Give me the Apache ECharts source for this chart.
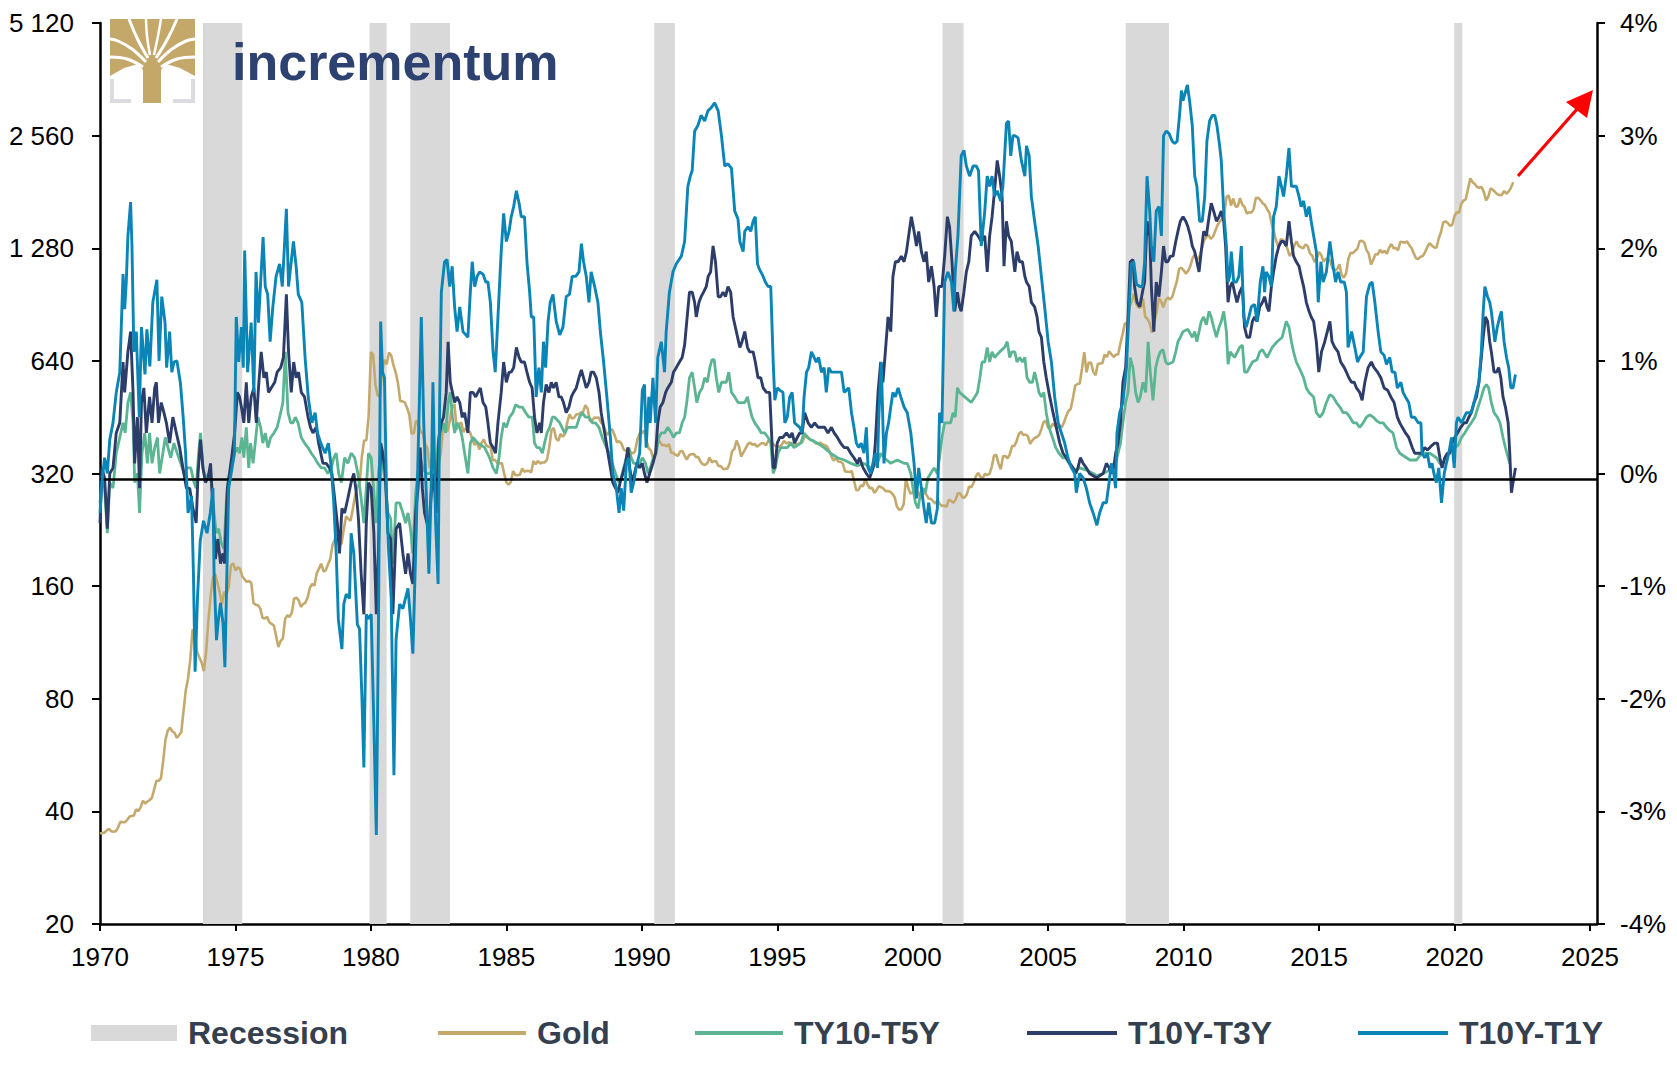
<!DOCTYPE html>
<html><head><meta charset="utf-8">
<script src="https://cdn.jsdelivr.net/npm/echarts@6/dist/echarts.min.js"></script>
<style>html,body{margin:0;padding:0;background:#fff}#c{width:1677px;height:1066px}</style>
</head><body><div id="c"></div>
<script>
// ---------- DATA ----------
const goldStart = 1970; // monthly from Jan 1970
const gold = [
34.9,35.0,35.1,35.6,35.9,35.4,35.3,35.4,36.2,37.5,37.4,37.4,
37.9,38.7,38.9,39.0,40.5,40.1,41.0,42.7,42.0,42.5,42.9,43.5,
45.8,48.3,48.3,49.0,54.6,62.1,65.7,67.0,65.5,64.9,62.9,63.9,
65.1,74.2,84.4,90.5,102.0,122.5,120.2,106.8,103.0,100.1,94.8,106.7,
129.2,150.2,168.4,172.2,163.3,154.1,143.0,154.6,151.8,158.8,181.7,183.9,
176.3,179.6,178.2,170.1,167.0,164.2,165.1,163.1,144.1,142.7,142.2,139.3,
131.6,131.0,132.6,128.1,126.8,125.6,117.9,110.0,114.1,116.0,130.5,133.8,
132.3,136.1,148.2,149.1,146.7,140.8,143.3,144.6,149.2,158.6,162.1,160.5,
173.1,178.2,183.7,175.1,176.3,183.1,188.9,206.1,212.9,227.7,206.1,207.8,
227.3,245.7,242.1,239.2,257.6,279.1,294.6,301.0,355.3,392.0,392.7,456.0,
675.3,665.3,553.6,517.4,513.8,600.7,644.3,626.5,673.6,661.2,623.5,594.9,
557.4,499.8,498.8,495.8,479.7,460.8,409.3,410.1,443.1,437.8,413.4,410.1,
384.2,374.2,330.2,350.5,333.9,314.8,338.7,364.1,435.6,422.0,415.0,444.3,
481.4,491.0,419.7,432.8,438.4,412.8,422.7,416.2,411.8,393.7,381.7,387.9,
371.0,386.0,394.8,381.1,377.1,378.0,347.2,348.0,341.1,340.2,341.2,320.2,
303.0,298.9,303.9,324.8,316.6,316.6,317.5,329.8,323.6,325.5,325.1,322.3,
345.5,338.7,345.8,340.4,342.5,342.6,348.5,376.2,417.9,423.3,397.4,391.1,
408.4,401.1,408.9,438.4,460.3,449.0,450.7,460.5,460.6,465.8,467.7,487.1,
477.0,442.1,443.6,451.7,451.0,451.3,437.4,432.4,413.0,406.0,419.3,419.1,
404.4,387.8,390.2,384.4,371.0,367.6,375.0,365.4,361.8,366.9,393.8,409.2,
410.1,416.8,393.1,374.3,369.1,352.3,362.5,394.7,389.3,380.7,381.4,378.2,
383.6,363.8,363.3,358.4,356.8,366.7,367.7,356.5,348.8,358.7,360.2,361.0,
354.5,353.9,344.3,338.6,337.2,340.8,353.1,342.9,345.4,344.4,335.0,334.8,
329.0,329.3,330.1,342.2,367.2,371.9,392.0,378.7,355.3,364.2,373.8,383.3,
386.9,382.0,383.9,377.3,381.4,385.6,385.5,380.4,391.6,389.8,384.4,379.3,
378.6,376.5,382.1,391.0,385.2,387.6,386.2,383.7,383.1,383.1,385.8,387.4,
399.5,404.8,396.2,392.9,392.0,385.3,383.5,387.4,383.1,381.1,377.9,369.0,
355.0,346.6,351.8,344.5,343.8,340.8,324.1,323.8,322.8,324.9,306.0,288.7,
289.1,297.5,295.9,308.4,299.1,292.3,292.9,284.1,289.0,296.1,294.1,291.7,
287.1,287.3,285.9,282.6,276.4,261.3,256.1,256.7,264.7,310.7,293.2,283.1,
284.3,299.9,286.4,279.7,275.3,285.7,281.6,274.5,273.7,270.0,266.0,271.5,
265.5,261.9,263.0,260.5,272.4,270.2,267.5,272.4,283.4,283.1,276.2,275.9,
281.7,295.5,294.0,302.7,314.5,321.2,313.3,310.3,319.2,316.6,319.1,333.4,
356.9,359.0,340.6,328.2,355.7,356.4,351.0,359.8,378.9,378.9,389.9,407.6,
414.0,405.3,406.7,403.0,383.8,392.4,398.1,400.5,405.3,420.5,439.4,442.1,
424.0,423.4,434.2,429.2,421.9,430.7,424.5,437.9,456.0,469.9,476.7,509.8,
549.9,555.0,557.1,610.6,675.4,596.2,633.8,632.6,598.2,585.8,627.8,629.8,
631.2,664.8,654.9,679.4,666.9,655.5,665.3,665.4,712.7,754.6,806.2,803.2,
889.6,922.3,968.4,909.7,888.7,889.5,939.8,839.0,829.9,806.6,760.9,816.1,
858.7,943.2,924.3,890.2,928.6,945.7,934.2,949.4,996.6,1043.2,1127.0,1134.7,
1117.9,1095.4,1113.3,1148.7,1205.4,1232.9,1192.9,1215.8,1270.9,1342.0,1369.9,1390.6,
1356.4,1372.7,1424.0,1473.8,1510.4,1528.7,1572.8,1755.8,1771.9,1665.2,1738.9,1652.3,
1656.1,1742.6,1673.8,1650.1,1585.5,1596.7,1593.9,1626.0,1744.5,1746.6,1721.6,1688.5,
1671.9,1627.6,1592.9,1487.9,1414.0,1343.4,1285.5,1351.7,1348.6,1316.6,1275.9,1221.5,
1244.3,1299.6,1336.1,1299.0,1287.5,1279.1,1310.6,1295.9,1238.8,1222.5,1175.3,1200.6,
1250.8,1227.1,1178.6,1198.9,1198.6,1181.5,1128.3,1117.9,1124.8,1159.3,1086.4,1068.3,
1097.9,1199.5,1245.1,1242.3,1260.9,1276.4,1336.7,1340.2,1326.6,1266.6,1238.4,1157.4,
1192.1,1234.2,1231.4,1266.9,1246.0,1260.3,1236.8,1283.0,1314.1,1279.5,1281.9,1264.5,
1331.3,1330.7,1324.7,1334.8,1303.5,1281.6,1238.0,1201.7,1198.4,1215.4,1220.7,1250.4,
1291.8,1320.1,1300.9,1285.9,1283.7,1359.0,1412.9,1500.4,1510.6,1494.8,1470.0,1479.1,
1560.7,1597.1,1591.9,1683.2,1715.9,1732.2,1846.5,1968.6,1921.9,1900.3,1866.3,1858.4,
1867.0,1808.2,1718.2,1760.0,1850.3,1834.6,1807.8,1785.3,1775.1,1776.9,1820.9,1790.3,
1816.0,1856.3,1920.0
];

// TY10-T5Y (%)
const t5Years = [1970.00,1970.07,1970.17,1970.27,1970.36,1970.48,1970.60,1970.73,1970.85,1970.93,1971.03,1971.13,1971.22,1971.28,1971.38,1971.46,1971.55,1971.65,1971.75,1971.83,1971.92,1972.02,1972.12,1972.20,1972.32,1972.41,1972.51,1972.61,1972.73,1972.85,1972.98,1973.10,1973.22,1973.35,1973.47,1973.55,1973.64,1973.71,1973.80,1973.89,1974.01,1974.11,1974.21,1974.29,1974.38,1974.48,1974.58,1974.66,1974.75,1974.85,1974.97,1975.07,1975.15,1975.24,1975.31,1975.40,1975.49,1975.56,1975.65,1975.73,1975.83,1975.93,1976.01,1976.10,1976.20,1976.30,1976.42,1976.54,1976.67,1976.75,1976.84,1976.94,1977.04,1977.12,1977.21,1977.31,1977.43,1977.55,1977.68,1977.80,1977.92,1978.04,1978.17,1978.29,1978.41,1978.54,1978.63,1978.72,1978.81,1978.91,1979.03,1979.15,1979.27,1979.40,1979.52,1979.64,1979.74,1979.83,1979.91,1980.01,1980.11,1980.20,1980.28,1980.36,1980.44,1980.53,1980.63,1980.73,1980.81,1980.93,1981.06,1981.18,1981.28,1981.37,1981.46,1981.55,1981.65,1981.74,1981.82,1981.92,1982.02,1982.19,1982.29,1982.39,1982.48,1982.56,1982.66,1982.76,1982.85,1982.93,1983.01,1983.09,1983.18,1983.28,1983.37,1983.46,1983.58,1983.67,1983.77,1983.95,1984.20,1984.38,1984.51,1984.63,1984.73,1984.81,1984.90,1985.00,1985.12,1985.24,1985.34,1985.47,1985.59,1985.71,1985.83,1985.96,1986.04,1986.13,1986.23,1986.33,1986.41,1986.50,1986.60,1986.70,1986.78,1986.97,1987.15,1987.27,1987.46,1987.58,1987.70,1987.80,1987.92,1988.05,1988.17,1988.29,1988.42,1988.54,1988.66,1988.79,1988.91,1989.03,1989.16,1989.24,1989.33,1989.43,1989.52,1989.61,1989.70,1989.92,1990.02,1990.14,1990.23,1990.31,1990.43,1990.53,1990.63,1990.72,1990.84,1990.96,1991.09,1991.17,1991.27,1991.39,1991.49,1991.58,1991.66,1991.76,1991.86,1991.95,1992.03,1992.13,1992.23,1992.32,1992.42,1992.51,1992.59,1992.67,1992.75,1992.84,1992.94,1993.12,1993.21,1993.31,1993.43,1993.55,1993.68,1993.80,1993.90,1993.98,1994.07,1994.17,1994.29,1994.41,1994.54,1994.66,1994.76,1994.85,1994.93,1995.03,1995.13,1995.37,1995.50,1995.62,1995.87,1995.99,1996.11,1996.23,1996.48,1996.73,1996.97,1997.22,1997.47,1997.71,1997.96,1998.20,1998.45,1998.70,1998.82,1998.94,1999.19,1999.43,1999.68,1999.80,1999.93,2000.01,2000.10,2000.20,2000.29,2000.38,2000.47,2000.56,2000.66,2000.79,2000.91,2000.99,2001.08,2001.18,2001.40,2001.49,2001.57,2001.65,2001.73,2001.92,2002.16,2002.29,2002.39,2002.48,2002.56,2002.66,2002.75,2002.84,2002.93,2003.02,2003.21,2003.39,2003.49,2003.58,2003.66,2003.77,2003.85,2003.95,2004.05,2004.14,2004.22,2004.32,2004.42,2004.50,2004.59,2004.66,2004.75,2004.84,2004.93,2005.03,2005.16,2005.28,2005.40,2005.53,2005.65,2005.77,2005.89,2006.02,2006.16,2006.41,2006.66,2006.78,2007.03,2007.27,2007.39,2007.49,2007.58,2007.67,2007.76,2007.86,2007.95,2008.03,2008.13,2008.23,2008.32,2008.40,2008.50,2008.60,2008.69,2008.77,2008.87,2008.97,2009.06,2009.14,2009.24,2009.34,2009.42,2009.61,2009.71,2009.79,2009.88,2009.98,2010.16,2010.32,2010.41,2010.49,2010.57,2010.65,2010.74,2010.84,2010.94,2011.02,2011.11,2011.21,2011.31,2011.39,2011.48,2011.58,2011.64,2011.72,2011.88,2012.07,2012.17,2012.25,2012.34,2012.54,2012.71,2012.81,2012.91,2013.08,2013.27,2013.45,2013.64,2013.79,2013.89,2013.98,2014.06,2014.16,2014.26,2014.34,2014.43,2014.53,2014.63,2014.80,2014.90,2015.03,2015.15,2015.27,2015.40,2015.52,2015.64,2015.77,2015.89,2016.01,2016.14,2016.26,2016.38,2016.50,2016.63,2016.75,2016.87,2017.00,2017.12,2017.24,2017.37,2017.49,2017.61,2017.73,2017.86,2017.98,2018.10,2018.23,2018.35,2018.60,2018.72,2018.84,2019.09,2019.21,2019.33,2019.46,2019.54,2019.67,2019.76,2019.89,2020.01,2020.13,2020.26,2020.38,2020.50,2020.62,2020.75,2020.87,2020.99,2021.09,2021.18,2021.26,2021.36,2021.46,2021.58,2021.68,2021.79,2021.88,2021.98,2022.04];
const t5Vals = [-0.26,-0.08,-0.13,-0.53,-0.08,-0.13,0.18,0.32,0.45,0.36,0.63,0.72,0.45,-0.08,0.00,-0.35,0.18,0.36,0.09,0.36,0.09,0.23,0.32,0.00,0.18,0.32,0.23,0.14,0.27,0.18,0.09,0.00,0.05,0.05,-0.08,-0.13,0.18,0.36,0.05,-0.04,0.00,-0.08,-0.35,-0.53,-0.49,-0.62,-0.67,-0.26,-0.04,0.05,0.18,0.23,0.18,0.32,0.14,0.41,0.05,0.27,0.09,0.27,0.50,0.41,0.27,0.36,0.23,0.32,0.36,0.41,0.54,0.63,1.08,0.54,0.45,0.45,0.50,0.45,0.32,0.27,0.23,0.18,0.14,0.09,0.05,0.05,0.00,0.05,0.14,0.18,0.00,-0.08,0.14,0.09,0.18,0.14,0.00,-0.22,-0.44,-0.13,0.18,0.14,-0.17,-0.44,0.00,0.18,0.09,-0.08,-0.35,-0.40,-0.80,-0.26,-0.26,-0.35,-0.44,-0.35,-0.49,-0.71,-0.17,0.00,0.14,0.05,0.00,0.00,0.09,0.00,0.27,0.36,0.45,0.36,0.63,0.72,0.50,0.36,0.45,0.41,0.32,0.18,0.00,0.27,0.32,0.27,0.23,0.14,0.05,0.00,0.14,0.32,0.45,0.41,0.50,0.54,0.61,0.59,0.59,0.54,0.50,0.50,0.27,0.23,0.23,0.18,0.27,0.36,0.41,0.50,0.50,0.45,0.36,0.41,0.41,0.41,0.50,0.54,0.50,0.50,0.45,0.45,0.41,0.32,0.25,0.18,0.09,0.00,-0.08,-0.04,0.05,0.14,0.23,0.14,0.09,0.09,0.14,0.09,0.00,0.05,0.14,0.18,0.32,0.36,0.36,0.41,0.36,0.32,0.36,0.36,0.45,0.50,0.63,0.85,0.90,0.76,0.63,0.72,0.76,0.85,0.81,0.94,1.01,1.01,0.85,0.72,0.81,0.81,0.90,0.72,0.68,0.63,0.63,0.63,0.68,0.59,0.50,0.45,0.41,0.36,0.36,0.32,0.27,0.00,0.05,0.18,0.23,0.23,0.27,0.23,0.27,0.36,0.32,0.30,0.27,0.23,0.18,0.14,0.12,0.09,0.07,0.09,0.05,0.09,0.18,0.14,0.09,0.12,0.09,0.09,0.00,-0.13,-0.26,-0.31,-0.17,-0.13,-0.17,-0.04,0.00,0.05,0.00,0.14,0.32,0.45,0.45,0.54,0.50,0.76,0.72,0.68,0.63,0.68,0.72,0.85,0.99,0.99,1.12,0.99,1.08,1.03,1.08,1.12,1.17,1.03,1.08,1.08,0.99,1.03,0.99,1.03,0.85,0.81,0.81,0.90,0.81,0.72,0.68,0.72,0.54,0.41,0.32,0.23,0.18,0.14,0.14,0.09,0.05,0.03,0.05,0.03,0.00,-0.02,0.00,0.03,0.05,0.09,0.18,0.27,0.45,0.63,0.72,1.03,0.94,0.72,0.63,0.68,0.81,0.72,1.17,0.90,0.65,0.94,1.03,1.08,1.10,0.99,0.97,0.99,1.08,1.17,1.21,1.26,1.28,1.21,1.26,1.17,1.26,1.35,1.39,1.32,1.44,1.39,1.30,1.21,1.30,1.35,1.44,1.26,0.97,1.08,1.03,1.12,1.14,0.90,0.90,0.99,1.01,1.08,1.10,1.03,1.12,1.17,1.21,1.35,1.30,1.17,1.08,0.99,0.94,0.90,0.85,0.76,0.72,0.68,0.54,0.50,0.54,0.63,0.70,0.68,0.63,0.59,0.54,0.54,0.50,0.45,0.45,0.41,0.45,0.50,0.52,0.50,0.47,0.45,0.45,0.41,0.38,0.36,0.23,0.18,0.16,0.14,0.12,0.12,0.16,0.18,0.18,0.16,0.14,0.09,0.07,0.14,0.18,0.21,0.23,0.25,0.32,0.36,0.41,0.45,0.50,0.59,0.68,0.76,0.79,0.76,0.63,0.54,0.50,0.45,0.32,0.23,0.14,0.09];

// T10Y-T3Y (%)
const t3Years = [1970.00,1970.07,1970.17,1970.27,1970.36,1970.48,1970.60,1970.73,1970.85,1970.91,1971.03,1971.13,1971.22,1971.28,1971.38,1971.46,1971.53,1971.62,1971.71,1971.83,1971.92,1972.02,1972.08,1972.16,1972.26,1972.36,1972.45,1972.57,1972.69,1972.82,1972.94,1973.06,1973.19,1973.31,1973.43,1973.55,1973.62,1973.71,1973.80,1973.89,1973.99,1974.08,1974.17,1974.26,1974.35,1974.45,1974.54,1974.60,1974.70,1974.78,1974.87,1974.97,1975.07,1975.15,1975.22,1975.31,1975.40,1975.49,1975.58,1975.68,1975.77,1975.85,1975.95,1976.05,1976.14,1976.22,1976.32,1976.45,1976.54,1976.67,1976.77,1976.88,1976.96,1977.06,1977.15,1977.24,1977.33,1977.43,1977.55,1977.68,1977.77,1977.86,1977.98,1978.07,1978.23,1978.35,1978.47,1978.56,1978.66,1978.76,1978.84,1978.93,1979.03,1979.15,1979.27,1979.37,1979.46,1979.54,1979.64,1979.74,1979.83,1979.91,1980.01,1980.11,1980.20,1980.28,1980.36,1980.44,1980.53,1980.63,1980.73,1980.81,1980.93,1981.06,1981.18,1981.28,1981.37,1981.46,1981.55,1981.65,1981.74,1981.82,1981.90,1981.98,1982.07,1982.14,1982.23,1982.32,1982.41,1982.51,1982.60,1982.68,1982.78,1982.85,1982.93,1983.01,1983.09,1983.18,1983.28,1983.37,1983.46,1983.58,1983.67,1983.77,1983.87,1983.95,1984.04,1984.14,1984.24,1984.32,1984.41,1984.51,1984.60,1984.69,1984.81,1984.90,1985.00,1985.10,1985.18,1985.27,1985.37,1985.47,1985.55,1985.67,1985.76,1985.86,1985.95,1986.04,1986.13,1986.23,1986.29,1986.37,1986.47,1986.57,1986.66,1986.74,1986.84,1986.94,1987.03,1987.11,1987.21,1987.31,1987.40,1987.48,1987.58,1987.68,1987.77,1987.85,1987.95,1988.05,1988.13,1988.22,1988.32,1988.42,1988.50,1988.63,1988.75,1988.84,1988.93,1989.03,1989.12,1989.20,1989.30,1989.40,1989.49,1989.55,1989.65,1989.73,1989.82,1989.92,1990.02,1990.10,1990.19,1990.29,1990.41,1990.51,1990.59,1990.68,1990.78,1990.88,1990.96,1991.09,1991.17,1991.27,1991.39,1991.49,1991.58,1991.66,1991.76,1991.86,1991.95,1992.01,1992.11,1992.19,1992.28,1992.38,1992.45,1992.54,1992.63,1992.72,1992.82,1992.91,1993.00,1993.09,1993.18,1993.28,1993.37,1993.49,1993.62,1993.70,1993.80,1993.90,1993.98,1994.11,1994.19,1994.29,1994.39,1994.48,1994.60,1994.72,1994.85,1994.91,1995.00,1995.09,1995.21,1995.34,1995.46,1995.55,1995.64,1995.74,1995.83,1995.92,1996.01,1996.14,1996.26,1996.38,1996.51,1996.63,1996.75,1996.87,1997.00,1997.10,1997.22,1997.34,1997.47,1997.59,1997.71,1997.83,1997.96,1998.04,1998.17,1998.29,1998.41,1998.54,1998.62,1998.72,1998.82,1998.90,1998.99,1999.09,1999.19,1999.27,1999.36,1999.46,1999.58,1999.68,1999.77,1999.85,1999.95,2000.05,2000.14,2000.22,2000.32,2000.42,2000.50,2000.59,2000.69,2000.79,2000.87,2000.96,2001.08,2001.18,2001.28,2001.36,2001.45,2001.55,2001.65,2001.73,2001.79,2001.89,2001.98,2002.07,2002.16,2002.29,2002.41,2002.53,2002.66,2002.75,2002.84,2002.93,2003.02,2003.12,2003.21,2003.30,2003.37,2003.46,2003.54,2003.64,2003.77,2003.85,2003.95,2004.05,2004.14,2004.20,2004.30,2004.38,2004.50,2004.59,2004.66,2004.75,2004.84,2004.93,2005.06,2005.18,2005.30,2005.43,2005.55,2005.67,2005.80,2005.92,2006.02,2006.10,2006.19,2006.29,2006.41,2006.53,2006.66,2006.80,2006.90,2007.03,2007.15,2007.25,2007.33,2007.42,2007.49,2007.58,2007.67,2007.76,2007.86,2007.95,2008.03,2008.13,2008.19,2008.28,2008.38,2008.48,2008.56,2008.65,2008.75,2008.81,2008.90,2008.99,2009.09,2009.18,2009.26,2009.34,2009.42,2009.51,2009.61,2009.71,2009.79,2009.88,2009.98,2010.08,2010.16,2010.25,2010.32,2010.41,2010.49,2010.57,2010.65,2010.74,2010.84,2010.94,2011.02,2011.11,2011.21,2011.31,2011.39,2011.48,2011.55,2011.64,2011.72,2011.80,2011.88,2011.97,2012.07,2012.17,2012.25,2012.34,2012.44,2012.54,2012.62,2012.71,2012.81,2012.91,2012.99,2013.08,2013.15,2013.24,2013.32,2013.42,2013.52,2013.61,2013.69,2013.79,2013.89,2013.98,2014.06,2014.16,2014.26,2014.34,2014.43,2014.53,2014.63,2014.71,2014.80,2014.90,2014.99,2015.09,2015.21,2015.40,2015.48,2015.58,2015.70,2015.80,2015.93,2016.01,2016.10,2016.20,2016.30,2016.38,2016.50,2016.59,2016.69,2016.81,2016.93,2017.03,2017.16,2017.28,2017.40,2017.53,2017.65,2017.77,2017.89,2017.98,2018.07,2018.19,2018.31,2018.44,2018.53,2018.66,2018.78,2018.90,2019.00,2019.09,2019.17,2019.27,2019.37,2019.46,2019.54,2019.64,2019.74,2019.83,2019.91,2020.01,2020.11,2020.23,2020.35,2020.44,2020.53,2020.62,2020.72,2020.81,2020.90,2020.99,2021.06,2021.14,2021.22,2021.30,2021.36,2021.46,2021.55,2021.63,2021.71,2021.79,2021.88,2021.98,2022.04,2022.10,2022.16,2022.25];
const t3Vals = [-0.44,0.05,-0.04,-0.49,0.00,0.05,0.36,0.45,0.99,0.72,1.08,1.26,0.72,0.09,0.50,-0.13,0.63,0.76,0.36,0.68,0.45,0.76,0.81,0.45,0.63,0.54,0.45,0.27,0.50,0.36,0.23,0.05,-0.13,-0.13,-0.31,-0.44,0.00,0.30,0.05,-0.08,-0.04,0.09,-0.31,-0.76,-0.58,-0.80,-0.71,-0.80,-0.13,0.00,0.16,0.36,0.72,0.68,0.59,0.45,0.81,0.45,0.68,0.76,0.45,0.76,1.08,0.85,0.90,0.72,0.76,0.81,0.90,0.94,1.03,1.59,1.08,0.72,0.99,0.85,0.90,0.72,0.68,0.50,0.41,0.36,0.41,0.27,0.09,0.09,0.05,0.00,-0.22,-0.44,-0.71,-0.31,-0.35,-0.22,-0.08,0.00,-0.17,-0.40,-0.89,-1.25,-0.44,-0.08,-0.13,-0.53,-1.25,-0.67,0.27,0.18,0.00,-0.53,-0.58,-1.25,-0.49,-0.44,-0.71,-0.89,-0.71,-0.89,-0.98,-0.35,-0.13,0.23,-0.13,-0.35,-0.44,-0.49,-0.17,0.00,-0.35,0.32,0.45,0.50,0.72,1.17,0.81,0.72,0.63,0.68,0.63,0.50,0.54,0.36,0.72,0.72,0.68,0.72,0.76,0.63,0.59,0.45,0.27,0.23,0.18,0.45,0.72,0.99,0.81,0.90,0.90,0.94,1.12,1.03,0.99,0.99,0.90,0.81,0.76,0.50,0.36,0.45,0.36,0.63,0.79,0.72,0.81,0.76,0.81,0.68,0.68,0.63,0.54,0.59,0.68,0.72,0.76,0.85,0.92,0.85,0.76,0.81,0.90,0.90,0.85,0.72,0.54,0.36,0.18,0.05,-0.08,-0.13,-0.17,-0.08,0.00,0.09,0.23,0.05,-0.08,0.00,0.09,0.05,0.09,0.00,-0.08,0.00,0.09,0.18,0.45,0.59,0.63,0.72,0.76,0.81,0.90,0.94,0.99,1.03,1.14,1.35,1.61,1.61,1.52,1.39,1.52,1.57,1.61,1.66,1.75,1.79,2.02,1.88,1.57,1.57,1.61,1.57,1.66,1.61,1.39,1.26,1.12,1.17,1.26,1.12,1.08,1.08,0.99,0.85,0.85,0.76,0.72,0.72,0.05,0.05,0.27,0.32,0.32,0.36,0.32,0.36,0.27,0.32,0.36,0.36,0.54,0.45,0.41,0.45,0.41,0.41,0.41,0.36,0.41,0.36,0.32,0.27,0.23,0.23,0.18,0.14,0.09,0.14,0.05,0.00,-0.04,0.05,0.27,0.72,0.99,0.81,1.08,1.39,1.26,1.75,1.88,1.88,1.93,1.88,1.97,2.11,2.28,2.15,2.02,2.15,1.97,1.88,1.97,1.70,1.84,1.66,1.39,1.66,1.66,1.93,2.28,2.19,1.88,1.44,1.61,1.48,1.44,1.61,1.79,1.88,2.11,2.15,2.11,2.06,2.11,1.79,2.11,2.28,2.51,2.78,2.64,2.46,1.84,2.24,2.11,2.06,1.79,1.97,1.88,1.88,1.75,1.70,1.66,1.52,1.48,1.39,1.26,1.21,0.99,0.85,0.68,0.54,0.41,0.27,0.18,0.14,0.09,0.05,0.00,0.05,0.14,0.09,0.05,0.00,-0.02,-0.04,-0.02,0.00,0.09,0.05,0.00,0.05,0.18,0.27,0.45,0.81,0.94,1.39,1.88,1.90,1.66,1.52,1.48,1.61,1.70,2.24,2.11,1.66,1.26,1.70,1.57,1.79,2.02,1.88,1.88,1.93,1.93,2.06,2.15,2.24,2.28,2.24,2.19,2.11,2.02,1.97,1.88,1.79,1.97,2.15,2.11,2.28,2.40,2.33,2.24,2.28,2.33,2.24,2.02,1.52,1.66,1.70,1.61,1.52,1.61,1.66,1.30,1.21,1.21,1.35,1.39,1.35,1.48,1.52,1.57,1.48,1.44,1.66,1.79,1.93,2.02,2.06,2.06,2.02,2.24,2.06,1.93,1.88,1.84,1.75,1.66,1.52,1.44,1.39,1.35,1.17,0.90,1.08,1.17,1.35,1.17,1.12,1.08,0.99,0.94,0.90,0.85,0.81,0.81,0.76,0.72,0.65,0.81,0.94,0.99,0.94,0.90,0.85,0.76,0.74,0.68,0.63,0.50,0.45,0.41,0.36,0.32,0.23,0.18,0.18,0.18,0.23,0.21,0.23,0.25,0.27,0.27,0.14,0.05,0.14,0.18,0.18,0.27,0.32,0.36,0.41,0.45,0.45,0.50,0.54,0.63,0.68,0.81,1.03,1.21,1.39,1.35,1.17,1.08,0.90,0.90,0.94,0.85,0.68,0.59,0.45,0.18,-0.17,-0.08,0.05];

// T10Y-T1Y (%)
const t1Years = [1970.00,1970.07,1970.17,1970.27,1970.36,1970.48,1970.60,1970.73,1970.85,1970.91,1970.97,1971.03,1971.13,1971.18,1971.25,1971.34,1971.45,1971.53,1971.66,1971.73,1971.84,1971.95,1972.10,1972.18,1972.28,1972.40,1972.46,1972.57,1972.65,1972.73,1972.84,1972.97,1973.07,1973.16,1973.25,1973.38,1973.45,1973.51,1973.60,1973.70,1973.82,1973.95,1974.07,1974.17,1974.21,1974.30,1974.37,1974.45,1974.54,1974.61,1974.66,1974.75,1974.84,1974.96,1975.03,1975.12,1975.22,1975.29,1975.34,1975.45,1975.58,1975.68,1975.76,1975.85,1976.02,1976.10,1976.19,1976.28,1976.38,1976.50,1976.63,1976.73,1976.88,1976.96,1977.04,1977.14,1977.24,1977.32,1977.45,1977.57,1977.69,1977.82,1977.94,1978.03,1978.15,1978.31,1978.43,1978.52,1978.62,1978.72,1978.80,1978.93,1979.00,1979.09,1979.21,1979.27,1979.37,1979.50,1979.58,1979.67,1979.74,1979.83,1979.89,1980.01,1980.11,1980.20,1980.28,1980.36,1980.43,1980.50,1980.58,1980.65,1980.75,1980.85,1980.93,1981.06,1981.18,1981.37,1981.46,1981.55,1981.68,1981.77,1981.86,1981.95,1982.05,1982.14,1982.23,1982.29,1982.39,1982.48,1982.54,1982.60,1982.72,1982.81,1982.91,1983.00,1983.09,1983.18,1983.28,1983.40,1983.58,1983.67,1983.74,1983.83,1983.92,1984.01,1984.14,1984.24,1984.32,1984.41,1984.51,1984.59,1984.69,1984.81,1984.90,1985.00,1985.10,1985.18,1985.27,1985.37,1985.47,1985.55,1985.67,1985.76,1985.86,1985.92,1986.01,1986.10,1986.20,1986.29,1986.37,1986.45,1986.54,1986.62,1986.72,1986.84,1986.97,1987.09,1987.21,1987.33,1987.43,1987.56,1987.68,1987.77,1987.85,1987.95,1988.05,1988.13,1988.26,1988.38,1988.47,1988.59,1988.71,1988.84,1988.93,1989.06,1989.16,1989.24,1989.33,1989.43,1989.52,1989.61,1989.70,1989.79,1989.92,1990.02,1990.10,1990.16,1990.26,1990.31,1990.41,1990.51,1990.59,1990.72,1990.84,1990.90,1991.02,1991.15,1991.27,1991.46,1991.58,1991.70,1991.79,1991.86,1991.95,1992.07,1992.19,1992.32,1992.44,1992.57,1992.69,1992.82,1992.94,1993.06,1993.18,1993.31,1993.43,1993.55,1993.62,1993.74,1993.80,1993.92,1994.02,1994.11,1994.19,1994.27,1994.35,1994.48,1994.56,1994.66,1994.76,1994.85,1994.91,1995.00,1995.09,1995.21,1995.28,1995.37,1995.46,1995.55,1995.64,1995.83,1995.92,1995.99,1996.08,1996.16,1996.26,1996.36,1996.44,1996.53,1996.63,1996.73,1996.81,1996.90,1997.00,1997.18,1997.37,1997.47,1997.64,1997.74,1997.83,1997.92,1998.01,1998.10,1998.20,1998.29,1998.35,1998.45,1998.53,1998.62,1998.70,1998.74,1998.84,1998.94,1999.03,1999.11,1999.19,1999.27,1999.36,1999.46,1999.56,1999.68,1999.80,1999.93,2000.05,2000.14,2000.22,2000.32,2000.42,2000.50,2000.59,2000.69,2000.81,2000.91,2000.99,2001.08,2001.18,2001.30,2001.43,2001.52,2001.57,2001.67,2001.79,2001.89,2001.98,2002.10,2002.23,2002.35,2002.43,2002.53,2002.66,2002.75,2002.84,2002.93,2003.02,2003.12,2003.25,2003.33,2003.46,2003.54,2003.62,2003.70,2003.77,2003.89,2004.01,2004.14,2004.20,2004.30,2004.38,2004.50,2004.63,2004.75,2004.87,2005.00,2005.12,2005.24,2005.37,2005.49,2005.61,2005.73,2005.86,2005.98,2006.04,2006.16,2006.29,2006.41,2006.53,2006.66,2006.80,2006.90,2007.03,2007.15,2007.25,2007.33,2007.42,2007.49,2007.54,2007.64,2007.76,2007.89,2007.99,2008.07,2008.16,2008.26,2008.38,2008.48,2008.56,2008.65,2008.75,2008.81,2008.90,2008.99,2009.09,2009.18,2009.26,2009.36,2009.46,2009.58,2009.67,2009.76,2009.85,2009.92,2009.98,2010.08,2010.14,2010.22,2010.32,2010.41,2010.49,2010.59,2010.69,2010.78,2010.86,2010.96,2011.06,2011.15,2011.23,2011.33,2011.39,2011.48,2011.58,2011.64,2011.70,2011.76,2011.85,2011.95,2012.04,2012.13,2012.22,2012.31,2012.41,2012.50,2012.62,2012.71,2012.83,2012.93,2012.99,2013.05,2013.15,2013.24,2013.32,2013.42,2013.52,2013.61,2013.69,2013.79,2013.89,2013.98,2014.06,2014.16,2014.26,2014.34,2014.43,2014.53,2014.63,2014.71,2014.80,2014.90,2014.97,2015.07,2015.15,2015.27,2015.40,2015.52,2015.61,2015.70,2015.80,2015.93,2016.01,2016.07,2016.20,2016.32,2016.42,2016.50,2016.63,2016.75,2016.87,2016.96,2017.06,2017.18,2017.28,2017.40,2017.49,2017.61,2017.70,2017.80,2017.89,2018.02,2018.10,2018.19,2018.31,2018.41,2018.53,2018.66,2018.76,2018.80,2018.90,2019.00,2019.09,2019.17,2019.24,2019.33,2019.42,2019.52,2019.62,2019.70,2019.79,2019.89,2019.99,2020.07,2020.13,2020.26,2020.44,2020.62,2020.72,2020.81,2020.90,2020.99,2021.06,2021.12,2021.22,2021.30,2021.36,2021.49,2021.58,2021.67,2021.73,2021.83,2021.92,2022.00,2022.08,2022.16,2022.25];
const t1Vals = [-0.35,-0.08,0.14,0.00,0.30,0.45,0.72,0.90,1.77,1.46,1.70,2.11,2.41,2.02,1.08,1.26,0.50,1.30,0.88,1.28,0.95,1.52,1.72,1.00,1.57,1.34,0.94,1.26,0.90,0.99,1.00,0.80,0.50,0.18,-0.35,-0.20,-0.90,-1.76,-1.10,-0.60,-0.42,-0.53,-0.35,-0.13,-0.88,-1.48,-1.30,-1.15,-1.33,-1.72,-1.15,-0.13,0.00,0.18,1.39,0.99,1.30,0.94,1.98,0.90,1.34,0.72,1.79,1.34,2.10,1.66,1.59,1.17,1.48,1.75,1.86,1.66,2.35,1.66,1.84,2.06,1.84,1.59,1.52,1.03,0.67,0.45,0.54,0.36,0.27,0.18,0.27,0.09,-0.22,-0.71,-1.30,-1.56,-1.16,-1.07,-1.11,-0.53,-0.71,-1.34,-1.38,-2.00,-2.61,-1.25,-1.29,-1.25,-2.23,-3.21,-1.34,1.35,0.90,0.85,-0.22,-0.67,-1.11,-2.68,-1.47,-1.16,-1.20,-1.02,-1.29,-1.60,-0.44,0.45,1.39,0.45,-0.22,-0.89,-0.08,0.81,-0.44,-0.98,0.68,1.61,1.88,1.90,1.66,1.84,1.48,1.26,1.48,1.26,1.21,1.61,1.88,1.66,1.75,1.79,1.77,1.70,1.70,1.52,1.08,0.90,1.39,1.97,2.31,2.06,2.15,2.28,2.37,2.51,2.40,2.28,2.28,1.88,1.61,1.39,1.39,0.68,0.94,0.72,1.17,0.94,1.35,1.52,1.59,1.35,1.23,1.30,1.57,1.59,1.75,1.75,1.79,2.04,1.88,1.75,1.52,1.79,1.66,1.52,1.26,0.99,0.68,0.32,0.00,-0.13,-0.35,-0.13,-0.33,0.09,0.14,-0.17,-0.08,0.05,0.18,0.74,0.79,0.23,0.68,0.45,0.85,0.45,1.03,1.17,0.90,1.26,1.61,1.79,1.86,1.93,2.06,2.55,2.64,2.69,3.04,3.09,3.18,3.13,3.22,3.25,3.29,3.22,3.00,2.73,2.75,2.71,2.33,2.26,2.06,1.97,2.15,2.19,2.15,2.24,2.28,1.86,1.81,1.75,1.70,1.66,1.66,0.99,0.65,0.76,0.74,0.72,0.45,0.50,0.68,0.72,0.45,0.41,0.36,0.68,0.90,0.94,1.08,1.03,0.99,1.03,0.90,0.94,0.72,0.94,0.90,0.90,0.90,0.72,0.76,0.54,0.41,0.27,0.23,0.27,0.18,0.41,0.05,0.00,0.09,0.18,0.05,0.45,0.99,0.09,0.36,0.45,0.59,0.72,0.68,0.76,0.68,0.59,0.54,0.36,0.09,-0.22,0.05,-0.13,-0.31,-0.44,-0.26,-0.44,-0.44,-0.31,0.54,0.45,1.70,1.79,1.70,1.44,1.79,2.11,2.82,2.87,2.73,2.64,2.73,2.73,2.69,2.02,2.33,2.64,2.55,2.64,2.46,2.51,2.42,2.55,3.11,3.13,2.82,3.00,3.00,2.98,2.78,2.64,2.91,2.82,2.46,2.24,2.02,1.75,1.48,1.17,0.99,0.68,0.45,0.36,0.27,0.14,0.05,0.00,-0.17,0.00,-0.04,-0.13,-0.26,-0.35,-0.46,-0.35,-0.26,-0.26,-0.08,0.09,0.00,-0.13,0.36,0.54,0.63,0.94,1.48,1.86,1.88,1.68,1.66,1.66,1.88,2.64,2.33,2.02,1.88,2.33,2.37,2.11,3.00,3.04,3.02,2.95,2.93,2.95,3.18,3.40,3.31,3.40,3.45,3.31,3.09,2.64,2.55,2.24,2.24,2.46,2.95,3.13,3.18,3.18,3.09,2.91,2.78,2.33,2.02,1.70,1.75,1.97,1.70,1.70,1.75,2.02,1.39,1.30,1.39,1.48,1.50,1.35,1.70,1.84,1.61,1.79,1.75,1.66,2.28,2.37,2.64,2.55,2.46,2.64,2.89,2.55,2.55,2.55,2.46,2.37,2.42,2.28,2.37,2.24,2.11,1.97,1.52,1.88,1.70,1.79,2.06,1.84,1.70,1.79,1.70,1.70,1.61,1.12,1.26,1.12,0.99,1.03,1.08,1.57,1.68,1.70,1.52,1.26,1.08,1.05,0.97,1.03,0.90,0.90,0.76,0.81,0.72,0.68,0.63,0.50,0.50,0.45,0.45,0.18,0.14,0.18,0.05,0.09,0.00,-0.08,0.05,-0.26,0.00,0.09,0.18,0.32,0.05,0.45,0.50,0.45,0.54,0.54,0.63,0.72,0.81,1.08,1.44,1.66,1.57,1.52,1.44,1.17,1.30,1.39,1.44,1.17,1.03,0.94,0.76,0.76,0.88];

const recessions = [[1973.80,1975.25],[1979.95,1980.58],[1981.45,1982.92],[1990.46,1991.22],[2001.10,2001.88],[2007.86,2009.46],[2019.99,2020.29]];
const leftTickBase = 20; // left axis: 20 * 2^k
const xTicks = [1970,1975,1980,1985,1990,1995,2000,2005,2010,2015,2020,2025];

// ---------- CHART ----------
const FONT = '"Liberation Sans", Arial, sans-serif';
const C_GOLD = '#c4a96c', C_T5 = '#5bb593', C_T3 = '#2c3d6a', C_T1 = '#0b84b6', C_REC = '#d9d9d9';
const pairs = (xs, ys) => xs.map((x, i) => [x, ys[i]]);
function fmtThousands(n) {
  n = Math.round(n);
  if (n < 1000) return String(n);
  return Math.floor(n / 1000) + ' ' + String(n % 1000).padStart(3, '0');
}
const legendText = { fontSize: 32, fontWeight: 'bold', color: '#35404f', fontFamily: FONT, padding: [0, 0, 0, 6] };
function mkLegend(name, left, w, h) {
  return { data: [{ name: name, icon: 'rect' }], left: left, top: 1017, itemWidth: w, itemHeight: h,
    padding: 0, selectedMode: false, textStyle: legendText };
}

const chart = echarts.init(document.getElementById('c'), null, { renderer: 'svg', width: 1677, height: 1066 });
const axisLineStyle = { color: '#000', width: 2.5 };
const AXIS_FS = 26;
chart.setOption({
  animation: false,
  backgroundColor: '#fff',
  grid: { left: 100, right: 80, top: 23, bottom: 142, containLabel: false },
  legend: [
    mkLegend('Recession', 91, 86, 16),
    mkLegend('Gold', 438, 88, 4),
    mkLegend('TY10-T5Y', 695, 88, 4),
    mkLegend('T10Y-T3Y', 1027, 90, 4),
    mkLegend('T10Y-T1Y', 1358, 90, 4)
  ],
  xAxis: {
    type: 'value', min: 1970, max: 2025.26, interval: 5,
    axisLine: { show: true, onZero: false, lineStyle: axisLineStyle },
    axisTick: { show: true, length: 7, lineStyle: { color: '#000', width: 2 } },
    axisLabel: { fontSize: AXIS_FS, color: '#000', fontFamily: FONT, margin: 20, showMaxLabel: false,
      formatter: v => xTicks.indexOf(Math.round(v * 100) / 100) >= 0 ? String(v) : '' },
    splitLine: { show: false }
  },
  yAxis: [
    { type: 'value', position: 'left', min: 0, max: 8, interval: 1,
      axisLine: { show: true, lineStyle: axisLineStyle },
      axisTick: { show: true, length: 8, lineStyle: { color: '#000', width: 2 } },
      axisLabel: { fontSize: AXIS_FS, color: '#000', fontFamily: FONT, margin: 26,
        formatter: v => fmtThousands(leftTickBase * Math.pow(2, v)) },
      splitLine: { show: false } },
    { type: 'value', position: 'right', min: -4, max: 4, interval: 1,
      axisLine: { show: true, lineStyle: axisLineStyle },
      axisTick: { show: true, length: 8, lineStyle: { color: '#000', width: 2 } },
      axisLabel: { fontSize: AXIS_FS, color: '#000', fontFamily: FONT, margin: 23, formatter: v => v + '%' },
      splitLine: { show: false } }
  ],
  series: [
    { name: 'Recession', type: 'line', yAxisIndex: 1, data: [], z: 1, showSymbol: false,
      itemStyle: { color: C_REC }, lineStyle: { color: C_REC },
      markArea: { silent: true, itemStyle: { color: C_REC, opacity: 1 },
        data: recessions.map(r => [{ xAxis: r[0] }, { xAxis: r[1] }]) } },
    { name: 'Gold', type: 'line', yAxisIndex: 0, z: 2, showSymbol: false, symbol: 'none',
      itemStyle: { color: C_GOLD }, lineStyle: { color: C_GOLD, width: 2.6 },
      data: gold.map((g, i) => [goldStart + i / 12, Math.log2(g / leftTickBase)]) },
    { name: 'TY10-T5Y', type: 'line', yAxisIndex: 1, z: 3, showSymbol: false, symbol: 'none',
      itemStyle: { color: C_T5 }, lineStyle: { color: C_T5, width: 2.8 }, data: pairs(t5Years, t5Vals) },
    { name: 'T10Y-T3Y', type: 'line', yAxisIndex: 1, z: 4, showSymbol: false, symbol: 'none',
      itemStyle: { color: C_T3 }, lineStyle: { color: C_T3, width: 2.9 }, data: pairs(t3Years, t3Vals) },
    { name: 'T10Y-T1Y', type: 'line', yAxisIndex: 1, z: 5, showSymbol: false, symbol: 'none',
      itemStyle: { color: C_T1 }, lineStyle: { color: C_T1, width: 2.9 }, data: pairs(t1Years, t1Vals) },
    { name: 'zero', type: 'line', yAxisIndex: 1, z: 8, data: [], showSymbol: false,
      markLine: { silent: true, symbol: 'none', label: { show: false },
        lineStyle: { color: '#000', width: 2.5, type: 'solid' }, data: [{ yAxis: -0.05 }] } }
  ],
  graphic: [
    // logo tree (gold canopy + trunk)
    { type: 'polygon', z: 20, shape: { points: [[110,19],[195,19],[195,76],[180,68],[166,64],[161,70],[161,103],[143,103],[143,70],[138,64],[124,68],[110,76]] },
      style: { fill: '#c4a86a' } },
    { type: 'polyline', z: 21, shape: { points: [[146,62],[132,49],[118,41],[110,39]], smooth: 0.4 }, style: { stroke: '#fff', lineWidth: 3, fill: null } },
    { type: 'polyline', z: 21, shape: { points: [[148,58],[138,40],[129,19]], smooth: 0.4 }, style: { stroke: '#fff', lineWidth: 3, fill: null } },
    { type: 'polyline', z: 21, shape: { points: [[150,55],[147,36],[146,19]], smooth: 0.4 }, style: { stroke: '#fff', lineWidth: 2.5, fill: null } },
    { type: 'polyline', z: 21, shape: { points: [[154,55],[158,36],[161,19]], smooth: 0.4 }, style: { stroke: '#fff', lineWidth: 2.5, fill: null } },
    { type: 'polyline', z: 21, shape: { points: [[156,58],[167,40],[177,19]], smooth: 0.4 }, style: { stroke: '#fff', lineWidth: 3, fill: null } },
    { type: 'polyline', z: 21, shape: { points: [[158,62],[172,49],[186,41],[195,39]], smooth: 0.4 }, style: { stroke: '#fff', lineWidth: 3, fill: null } },
    { type: 'polyline', z: 21, shape: { points: [[143,67],[127,59],[110,57]], smooth: 0.4 }, style: { stroke: '#fff', lineWidth: 3, fill: null } },
    { type: 'polyline', z: 21, shape: { points: [[161,67],[177,59],[195,57]], smooth: 0.4 }, style: { stroke: '#fff', lineWidth: 3, fill: null } },
    { type: 'polyline', z: 20, shape: { points: [[112,79],[112,101],[131,101]] }, style: { stroke: '#dcdce0', lineWidth: 4, fill: null } },
    { type: 'polyline', z: 20, shape: { points: [[173,101],[193,101],[193,79]] }, style: { stroke: '#dcdce0', lineWidth: 4, fill: null } },
    { type: 'text', z: 20, style: { text: 'incrementum', x: 232, y: 62, verticalAlign: 'middle', align: 'left',
      font: 'bold 52px "Liberation Sans", Arial, sans-serif', fill: '#2e4271' } },
    // red arrow
    { type: 'polyline', z: 20, shape: { points: [[1518,176],[1578,108]] }, style: { stroke: '#ff0000', lineWidth: 3.2, fill: null } },
    { type: 'polygon', z: 20, shape: { points: [[1593,90],[1566,102],[1587,118]] }, style: { fill: '#ff0000' } }
  ]
});
</script>
</body></html>
